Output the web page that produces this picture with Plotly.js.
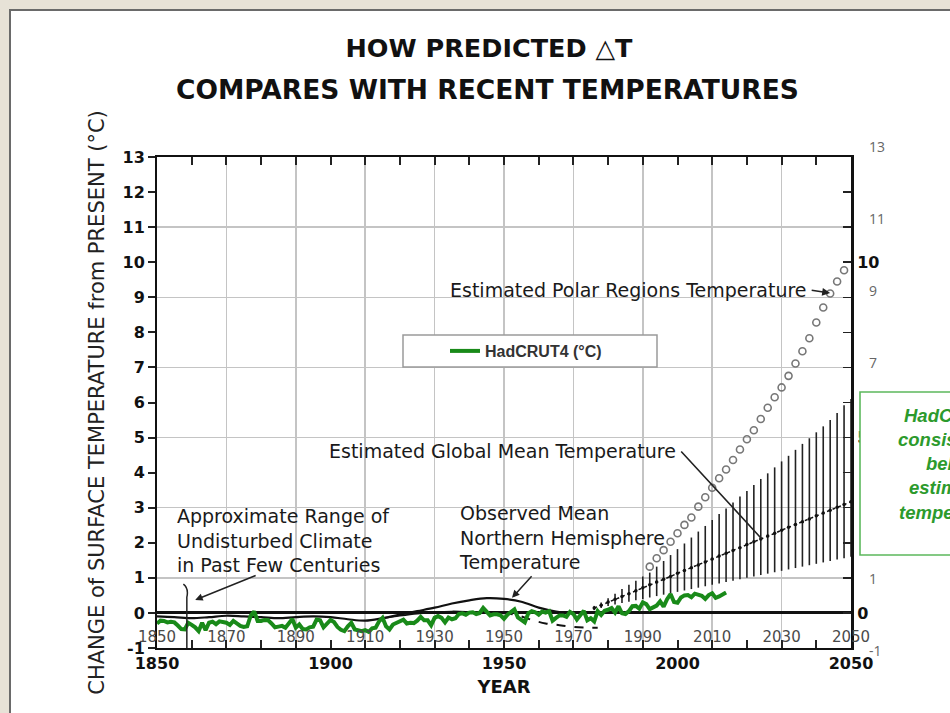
<!DOCTYPE html>
<html>
<head>
<meta charset="utf-8">
<script src="https://cdn.plot.ly/plotly-3.0.1.min.js"></script>
<style>html,body{margin:0;padding:0;background:#e7e2d7;}#chart{width:950px;height:713px;}</style>
</head>
<body>
<div id="chart"></div>
<script>
// ---------------- data ----------------
const hadcrutStart = 1850;
const hadcrutVals = [
 -0.30,-0.22,-0.23,-0.27,-0.25,-0.27,-0.36,-0.46,-0.47,-0.28,
 -0.34,-0.41,-0.52,-0.28,-0.49,-0.28,-0.25,-0.32,-0.24,-0.26,
 -0.28,-0.34,-0.23,-0.30,-0.37,-0.40,-0.38,-0.08,0.04,-0.23,
 -0.23,-0.20,-0.21,-0.30,-0.41,-0.39,-0.37,-0.42,-0.31,-0.17,
 -0.42,-0.33,-0.46,-0.47,-0.41,-0.39,-0.19,-0.21,-0.41,-0.29,
 -0.20,-0.26,-0.40,-0.48,-0.52,-0.38,-0.28,-0.47,-0.51,-0.52,
 -0.49,-0.54,-0.44,-0.42,-0.24,-0.14,-0.38,-0.47,-0.33,-0.28,
 -0.25,-0.19,-0.30,-0.28,-0.29,-0.22,-0.11,-0.21,-0.21,-0.35,
 -0.14,-0.09,-0.14,-0.27,-0.13,-0.18,-0.15,-0.03,-0.01,-0.05,
 0.01,0.02,-0.03,0.00,0.14,0.03,-0.07,-0.04,-0.04,-0.07,
 -0.17,-0.05,0.03,0.10,-0.13,-0.19,-0.27,-0.01,0.05,0.02,
 -0.05,0.04,0.01,0.05,-0.22,-0.14,-0.07,-0.07,-0.11,0.03,
 -0.03,-0.19,-0.07,0.06,-0.21,-0.15,-0.24,0.05,-0.06,0.06,
 0.09,0.14,0.01,0.19,-0.01,-0.03,0.05,0.19,0.20,0.12,
 0.30,0.25,0.11,0.15,0.21,0.33,0.18,0.39,0.54,0.31,
 0.29,0.44,0.50,0.51,0.45,0.55,0.51,0.49,0.40,0.51,
 0.56,0.43,0.47,0.51,0.58
];
const hadcrutYears = hadcrutVals.map((v, i) => hadcrutStart + i);

// observed mean northern hemisphere temperature (original chart)
const obsYears = [1850,1855,1860,1865,1870,1875,1880,1885,1890,1895,1900,1905,1910,1915,1920,1925,1930,1935,1940,1945,1950,1955,1960,1965,1970];
const obsVals  = [-0.10,-0.12,-0.15,-0.12,-0.08,-0.10,-0.12,-0.15,-0.12,-0.10,-0.12,-0.18,-0.22,-0.15,-0.05,0.05,0.15,0.27,0.36,0.42,0.40,0.32,0.15,0.04,0.00];
const obsLowYears = [1915,1920,1925,1930,1935,1940,1945,1950];
const obsLowVals  = [-0.15,-0.08,-0.02,0.02,0.04,0.03,0.01,0.00];
const obsDashYears = [1950,1952,1955,1958,1962,1966,1970,1974,1977];
const obsDashVals  = [0.00,-0.03,-0.10,-0.20,-0.30,-0.35,-0.40,-0.42,-0.42];

// estimated global mean temperature with range
const estYears = [1976,1978,1980,1982,1984,1986,1988,1990,1992,1994,1996,1998,2000,2002,2004,2006,2008,2010,2012,2014,2016,2018,2020,2022,2024,2026,2028,2030,2032,2034,2036,2038,2040,2042,2044,2046,2048,2050];
const estMid  = [0.14,0.22,0.31,0.39,0.47,0.55,0.63,0.72,0.80,0.88,0.96,1.04,1.13,1.21,1.29,1.37,1.45,1.54,1.62,1.70,1.78,1.86,1.95,2.03,2.11,2.19,2.27,2.36,2.44,2.52,2.60,2.68,2.77,2.85,2.93,3.01,3.09,3.17];
const estHigh = [0.20,0.30,0.42,0.55,0.68,0.80,0.92,1.04,1.15,1.32,1.48,1.65,1.82,1.98,2.15,2.32,2.48,2.65,2.82,2.98,3.15,3.32,3.48,3.65,3.82,3.98,4.15,4.32,4.48,4.65,4.82,4.98,5.15,5.32,5.50,5.70,5.92,6.10];
const estLow  = [0.08,0.14,0.20,0.24,0.28,0.32,0.36,0.40,0.44,0.48,0.52,0.56,0.60,0.64,0.68,0.72,0.76,0.80,0.84,0.88,0.92,0.96,1.00,1.04,1.08,1.12,1.16,1.20,1.24,1.28,1.32,1.36,1.40,1.44,1.48,1.52,1.56,1.60];

// estimated polar regions temperature
const polarYears = [1992,1994,1996,1998,2000,2002,2004,2006,2008,2010,2012,2014,2016,2018,2020,2022,2024,2026,2028,2030,2032,2034,2036,2038,2040,2042,2044,2046,2048];
const polarVals  = [1.32,1.56,1.79,2.03,2.27,2.51,2.72,3.03,3.30,3.57,3.84,4.09,4.36,4.66,4.95,5.21,5.53,5.85,6.15,6.43,6.76,7.11,7.46,7.83,8.28,8.71,9.11,9.45,9.77];

// ticks
const xMajorTicks = [1850,1860,1870,1880,1890,1900,1910,1920,1930,1940,1950,1960,1970,1980,1990,2000,2010,2020,2030,2040,2050];
const xMajorLabels = ['1850','','','','','1900','','','','','1950','','','','','2000','','','','','2050'];
const xInnerTicks = [1850,1870,1890,1910,1930,1950,1970,1990,2010,2030,2050];
const xInnerLabels = ['1850','1870','1890','1910','1930','1950','1970','1990','2010','2030','2050'];
const yTicks = [-1,0,1,2,3,4,5,6,7,8,9,10,11,12,13];
const yLeftLabels = ['-1','0','1','2','3','4','5','6','7','8','9','10','11','12','13'];
const yRightLabels = ['','0','','','','','5','','','','','10','','',''];
const yGridVals = [1,3,5,7,9,11];
const rightGrayLabels = [13,11,9,7,1,-1];
const boxLines = ['HadCRUT4','consistently','below','estimated','temperature'];

// ---------------- layout helpers ----------------
const W = 950, H = 713;
const L = 157, R = 851, T = 157, B = 648;
const px = x => (x - L) / (R - L);
const py = y => (B - y) / (B - T);
const FONT = 'DejaVu Sans, sans-serif';
const INK = '#1a1a1a';

const traces = [
  {x: obsYears, y: obsVals, xaxis: 'x', yaxis: 'y', mode: 'lines', line: {color: '#111', width: 2.2, shape: 'spline'}, showlegend: false, hoverinfo: 'skip'},
  {x: obsLowYears, y: obsLowVals, xaxis: 'x', yaxis: 'y', mode: 'lines', line: {color: '#111', width: 1.8, shape: 'spline'}, showlegend: false, hoverinfo: 'skip'},
  {x: obsDashYears, y: obsDashVals, xaxis: 'x', yaxis: 'y', mode: 'lines', line: {color: '#111', width: 2, dash: 'dash', shape: 'spline'}, showlegend: false, hoverinfo: 'skip'},
  {x: estYears, y: estMid, xaxis: 'x', yaxis: 'y2', mode: 'lines+markers', line: {color: '#111', width: 1.5, dash: 'dot'},
   marker: {color: '#111', size: 3.5},
   error_y: {type: 'data', symmetric: false,
     array: estHigh.map((h, i) => h - estMid[i]),
     arrayminus: estLow.map((l, i) => estMid[i] - l),
     color: '#222', thickness: 1.6, width: 0},
   showlegend: false, hoverinfo: 'skip'},
  {x: polarYears, y: polarVals, xaxis: 'x2', yaxis: 'y', mode: 'markers', marker: {symbol: 'circle-open', size: 7, color: '#777', line: {width: 1.6, color: '#777'}}, showlegend: false, hoverinfo: 'skip'},
  {x: hadcrutYears, y: hadcrutVals, xaxis: 'x', yaxis: 'y3', mode: 'lines', name: 'HadCRUT4 (°C)', line: {color: '#198a19', width: 4}, showlegend: true}
];

const ann = [];
ann.push({xref: 'paper', yref: 'paper', x: px(487), y: py(90), xanchor: 'center', yanchor: 'middle', showarrow: false,
  text: '<b>COMPARES WITH RECENT TEMPERATURES</b>', font: {family: FONT, size: 26.5, color: '#111'}});
ann.push({xref: 'paper', yref: 'paper', x: px(809), y: py(290), xanchor: 'right', yanchor: 'middle', showarrow: false,
  text: 'Estimated Polar Regions Temperature', font: {family: FONT, size: 19, color: INK}});
ann.push({xref: 'x', yref: 'y', x: 2044, y: 9.12, ax: -20, ay: -3, text: '', showarrow: true, arrowhead: 2, arrowsize: 1, arrowwidth: 1.6, arrowcolor: '#222'});
ann.push({xref: 'paper', yref: 'paper', x: px(678), y: py(451), xanchor: 'right', yanchor: 'middle', showarrow: false,
  text: 'Estimated Global Mean Temperature', font: {family: FONT, size: 19, color: INK}});
ann.push({xref: 'x', yref: 'y', x: 2024.3, y: 2.11, ax: -82, ay: -89, text: '', showarrow: true, arrowhead: 0, arrowwidth: 1.6, arrowcolor: '#222'});
ann.push({xref: 'paper', yref: 'paper', x: px(175), y: py(540), xanchor: 'left', yanchor: 'middle', align: 'left', showarrow: false,
  text: 'Approximate Range of<br>Undisturbed Climate<br>in Past Few Centuries', font: {family: FONT, size: 19, color: INK}});
ann.push({xref: 'x', yref: 'y', x: 1861, y: 0.37, ax: 62, ay: -25, text: '', showarrow: true, arrowhead: 2, arrowsize: 1, arrowwidth: 1.5, arrowcolor: '#222'});
ann.push({xref: 'paper', yref: 'paper', x: px(457), y: py(537), xanchor: 'left', yanchor: 'middle', align: 'left', showarrow: false,
  text: 'Observed Mean<br>Northern Hemisphere<br>Temperature', font: {family: FONT, size: 19, color: INK}});
ann.push({xref: 'x', yref: 'y', x: 1952.3, y: 0.43, ax: 21, ay: -23, text: '', showarrow: true, arrowhead: 2, arrowsize: 1, arrowwidth: 1.5, arrowcolor: '#222'});
// grey right-hand scale of the overlaid graph (slightly different vertical spacing)
rightGrayLabels.forEach(v => {
  ann.push({xref: 'paper', yref: 'paper', x: px(867), y: py(147 + (13 - v) * 35.93), xanchor: 'left', yanchor: 'middle', showarrow: false,
    text: String(v), font: {family: 'Open Sans, sans-serif', size: 14, color: '#666'}});
});
boxLines.forEach((t, i) => {
  ann.push({xref: 'paper', yref: 'paper', x: px(953), y: py(415 + i * 24.3), xanchor: 'center', yanchor: 'middle', showarrow: false,
    text: '<b><i>' + t + '</i></b>', font: {family: 'Liberation Sans, sans-serif', size: 18.5, color: '#2c9a2c'}});
});

const shapes = [
  {type: 'rect', xref: 'paper', yref: 'paper', x0: px(10), x1: px(970), y0: py(730), y1: py(10), fillcolor: '#ffffff', line: {color: '#6a6a6a', width: 2}, layer: 'below'},
  {type: 'path', xref: 'x', yref: 'y', path: 'M 1857.6,0.82 Q 1859.2,0.7 1858.6,0.45 L 1858.6,-1.08', line: {color: '#222', width: 1.5}, layer: 'above'},
  {type: 'rect', xref: 'paper', yref: 'paper', x0: px(403), x1: px(657), y0: py(367), y1: py(335), fillcolor: '#ffffff', line: {color: '#9a9a9a', width: 1.5}, layer: 'above'},
  {type: 'rect', xref: 'paper', yref: 'paper', x0: px(860), x1: px(1010), y0: py(555), y1: py(392), fillcolor: '#ffffff', line: {color: '#5cb85c', width: 1.6}, layer: 'above'}
];

const layout = {
  width: W, height: H,
  paper_bgcolor: '#e7e2d7', plot_bgcolor: '#ffffff',
  margin: {l: L, r: W - R, t: T, b: H - B, pad: 0},
  title: {text: '<b>HOW PREDICTED △T</b>', xref: 'paper', x: px(489), xanchor: 'center', yref: 'container', y: 1 - 48 / H, yanchor: 'middle',
    font: {family: FONT, size: 25.5, color: '#111'}},
  showlegend: true,
  legend: {x: px(445), y: py(351), xanchor: 'left', yanchor: 'middle', bgcolor: 'rgba(0,0,0,0)', borderwidth: 0,
    font: {family: 'Liberation Sans, sans-serif', size: 16, color: '#333', weight: 'bold'}},
  xaxis: {range: [1850, 2050], tickmode: 'array', tickvals: xMajorTicks, ticktext: xMajorLabels,
    ticks: 'inside', ticklen: 8, tickwidth: 2, tickcolor: '#222', showline: true, linecolor: '#111', linewidth: 2, mirror: 'ticks',
    showgrid: false, zeroline: false, tickfont: {family: FONT, size: 16, color: '#111', weight: 'bold'},
    title: {text: '<b>YEAR</b>', font: {family: FONT, size: 18, color: '#111'}, standoff: 8}},
  xaxis2: {range: [1850, 2050], overlaying: 'x', anchor: 'y', side: 'bottom', tickmode: 'array', tickvals: xInnerTicks, ticktext: xInnerLabels,
    ticks: '', ticklabelposition: 'inside', ticklabeloverflow: 'allow', showgrid: true, gridcolor: '#c4c4c4', gridwidth: 1.5, showline: false, zeroline: false,
    tickfont: {family: FONT, size: 15, color: '#4a4a4a'}},
  yaxis: {range: [-1, 13], tickmode: 'array', tickvals: yTicks, ticktext: yLeftLabels, ticks: 'outside', ticklen: 7, tickwidth: 2, tickcolor: '#222',
    showline: true, linecolor: '#111', linewidth: 2, showgrid: false, zeroline: true, zerolinecolor: '#111', zerolinewidth: 3,
    ticklabeloverflow: 'allow',
    tickfont: {family: FONT, size: 16, color: '#111', weight: 'bold'},
    title: {text: 'CHANGE of SURFACE TEMPERATURE from PRESENT (°C)', font: {family: FONT, size: 21, color: '#222'}, standoff: 12}},
  yaxis2: {range: [-1, 13], overlaying: 'y', anchor: 'x', side: 'right', tickmode: 'array', tickvals: yTicks, ticktext: yRightLabels,
    ticks: 'inside', ticklen: 8, tickwidth: 1.5, tickcolor: '#222', showline: true, linecolor: '#111', linewidth: 3,
    showgrid: false, zeroline: false, tickfont: {family: FONT, size: 16, color: '#111', weight: 'bold'}},
  yaxis3: {range: [-1, 13], overlaying: 'y', anchor: 'x', side: 'left', tickmode: 'array', tickvals: yGridVals,
    showticklabels: false, ticks: '', showgrid: true, gridcolor: '#c4c4c4', gridwidth: 1.5, showline: false, zeroline: false},
  annotations: ann,
  shapes: shapes
};

Plotly.newPlot('chart', traces, layout, {displayModeBar: false, staticPlot: true});
</script>
</body>
</html>
